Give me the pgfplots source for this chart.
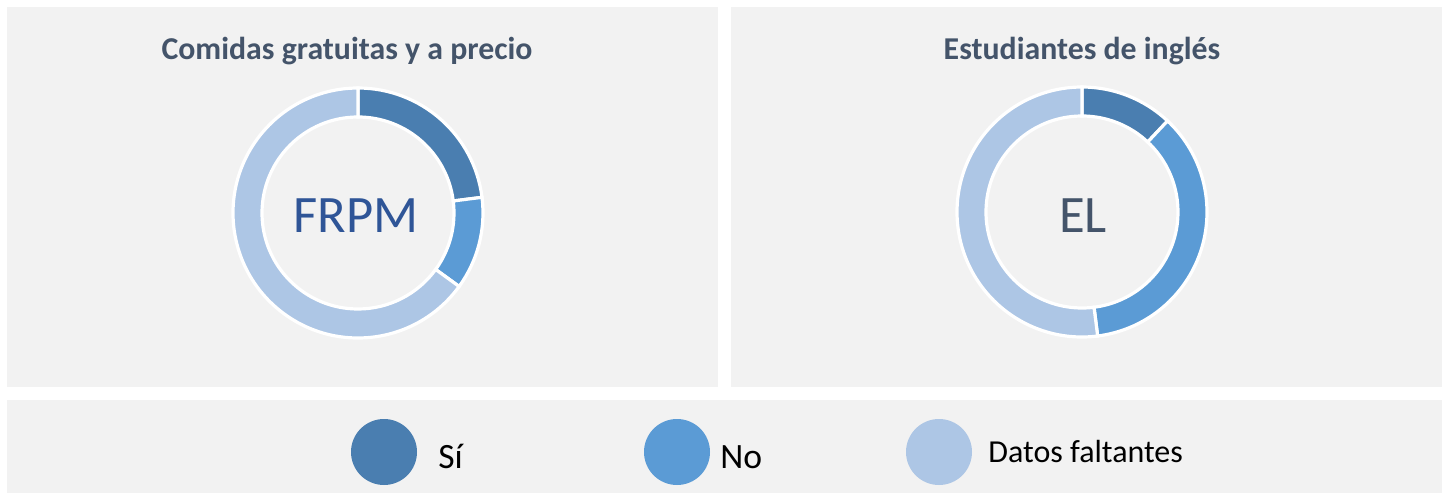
\documentclass[border=0pt]{standalone}
\usepackage{pgfplots}
\pgfplotsset{compat=1.18}
\usepackage{pgfplotstable}
\usepackage{fontspec}
\setmainfont{Carlito}

\definecolor{si}{HTML}{4A7EB0}
\definecolor{no}{HTML}{5B9BD5}
\definecolor{falt}{HTML}{ADC6E5}
\definecolor{panel}{HTML}{F2F2F2}
\definecolor{titulo}{HTML}{44546A}
\definecolor{frpmcol}{HTML}{2F5597}

% porcentajes
\pgfplotstableread{
cat val col
Si 23 si
No 12 no
Faltan 65 falt
}\frpm

\pgfplotstableread{
cat val col
Si 12 si
No 36 no
Faltan 52 falt
}\el

% dona: sectores desde las 12 en sentido horario
\newcommand\dona[1]{%
  \def\acum{0}%
  \pgfplotstablegetrowsof{#1}%
  \pgfmathtruncatemacro\ultima{\pgfplotsretval-1}%
  \pgfplotsforeachungrouped \i in {0,...,\ultima}{%
    \pgfplotstablegetelem{\i}{val}\of{#1}\let\valor\pgfplotsretval
    \pgfplotstablegetelem{\i}{col}\of{#1}\let\colr\pgfplotsretval
    \pgfmathsetmacro\aA{90-3.6*\acum}%
    \pgfmathsetmacro\acum{\acum+\valor}%
    \pgfmathsetmacro\aB{90-3.6*\acum}%
    \edef\sector{\noexpand\fill[\colr, draw=white, line width=1.6pt]
      ([shift={(\aA:62.5pt)}]axis cs:0,0) arc[start angle=\aA, end angle=\aB, radius=62.5pt]
      -- ([shift={(\aB:48pt)}]axis cs:0,0) arc[start angle=\aB, end angle=\aA, radius=48pt] -- cycle;}%
    \sector
  }%
}

\pgfplotsset{donut/.style={anchor=center, hide axis, scale only axis,
  width=125pt, height=125pt, xmin=-1, xmax=1, ymin=-1, ymax=1, clip=false}}

\begin{document}
\begin{tikzpicture}[x=0.5pt, y=0.5pt]
  \fill[white] (0,0) rectangle (1448,499);
  \fill[panel] (7,112) rectangle (718,492);
  \fill[panel] (731,112) rectangle (1442,492);
  \fill[panel] (7,6) rectangle (1442,99);

  \begin{axis}[donut, at={(179pt,143pt)}]
    \dona{\frpm}
  \end{axis}
  \begin{axis}[donut, at={(541pt,143.5pt)}]
    \dona{\el}
  \end{axis}

  \node[anchor=base, inner sep=0, text=titulo, font=\bfseries\fontsize{15.9}{19}\selectfont]
    at (347,439) {Comidas gratuitas y a precio};
  \node[anchor=base, inner sep=0, text=titulo, font=\bfseries\fontsize{15.9}{19}\selectfont]
    at (1082,439) {Estudiantes de inglés};

  \node[anchor=base, inner sep=0, text=frpmcol, font=\fontsize{26.3}{30}\selectfont] at (356,266) {FRPM};
  \node[anchor=base, inner sep=0, text=titulo, font=\fontsize{26.3}{30}\selectfont] at (1083,266) {EL};

  % leyenda
  \fill[si] (384,47) circle[radius=33];
  \fill[no] (677,47) circle[radius=33];
  \fill[falt] (939,47) circle[radius=33];
  \node[anchor=base west, inner sep=0, font=\fontsize{17.8}{21}\selectfont] at (438,31) {Sí};
  \node[anchor=base west, inner sep=0, font=\fontsize{17.8}{21}\selectfont] at (720,31) {No};
  \node[anchor=base west, inner sep=0, font=\fontsize{16}{19}\selectfont] at (988,37) {Datos faltantes};
\end{tikzpicture}
\end{document}
